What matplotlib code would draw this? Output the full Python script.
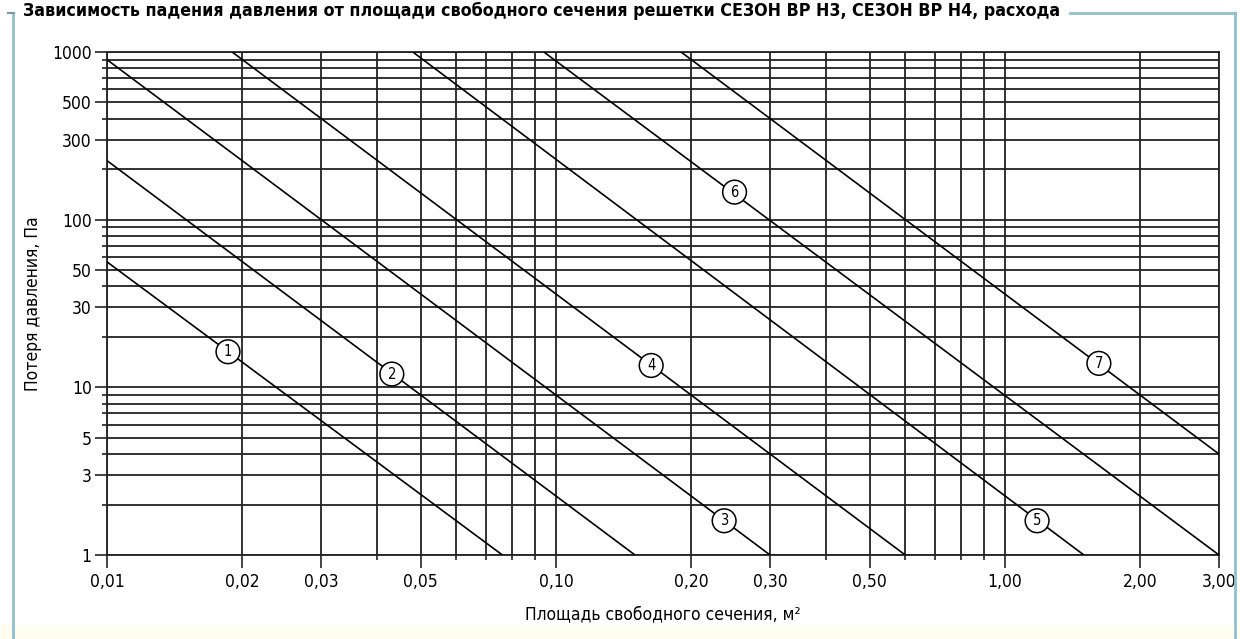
import matplotlib
matplotlib.use("Agg")
import matplotlib.pyplot as plt
from matplotlib.lines import Line2D
from matplotlib.patches import Rectangle
from matplotlib.ticker import FixedLocator, FixedFormatter, NullFormatter

plt.rcParams['font.family'] = ['DejaVu Sans']
plt.rcParams['font.stretch'] = 'condensed'

# Lines: each one is straight on log-log axes,
# so a start and an end point are enough
line_names = ["1", "2", "3", "4", "5", "6", "7"]
x_start = [0.01, 0.01, 0.01, 0.019, 0.048, 0.094, 0.19]
y_start = [56, 225, 900, 1000, 1000, 1000, 1000]
x_end = [0.076, 0.15, 0.30, 0.60, 1.5, 3.0, 3.0]
y_end = [1, 1, 1, 1, 1, 1, 4.0]

# Circled numbers sitting on the lines
label_x = [0.0186, 0.0431, 0.237, 0.163, 1.18, 0.25, 1.62]
label_y = [16.3, 12.0, 1.6, 13.5, 1.6, 146, 13.9]

# Axis ticks
x_major = [0.01, 0.02, 0.03, 0.05, 0.10, 0.20, 0.30, 0.50, 1.00, 2.00, 3.00]
x_major_labels = ["0,01", "0,02", "0,03", "0,05", "0,10", "0,20", "0,30",
                  "0,50", "1,00", "2,00", "3,00"]
x_minor = [0.04, 0.06, 0.07, 0.08, 0.09, 0.4, 0.6, 0.7, 0.8, 0.9]
y_major = [1, 3, 5, 10, 30, 50, 100, 300, 500, 1000]
y_major_labels = ["1", "3", "5", "10", "30", "50", "100", "300", "500", "1000"]
y_minor = [2, 4, 6, 7, 8, 9, 20, 40, 60, 70, 80, 90, 200, 400, 600, 700, 800, 900]

title = ("Зависимость падения давления от площади свободного сечения "
         "решетки СЕЗОН ВР Н3, СЕЗОН ВР Н4, расхода")

W, H = 1240, 639
fig = plt.figure(figsize=(W / 100, H / 100), dpi=100)
fig.patch.set_facecolor("white")

# faint cream strip along the bottom edge
fig.add_artist(Rectangle((0, 0), 1, 14 / H, transform=fig.transFigure,
                         fc="#fffcf0", ec="none", zorder=0))

ax = fig.add_axes([107 / W, 1 - 555 / H, (1219 - 107) / W, (555 - 52) / H])
ax.set_xscale("log")
ax.set_yscale("log")
ax.set_xlim(0.01, 3.0)
ax.set_ylim(1, 1000)

grid_col = "#222222"
ax.xaxis.set_major_locator(FixedLocator(x_major))
ax.xaxis.set_major_formatter(FixedFormatter(x_major_labels))
ax.xaxis.set_minor_locator(FixedLocator(x_minor))
ax.xaxis.set_minor_formatter(NullFormatter())
ax.yaxis.set_major_locator(FixedLocator(y_major))
ax.yaxis.set_major_formatter(FixedFormatter(y_major_labels))
ax.yaxis.set_minor_locator(FixedLocator(y_minor))
ax.yaxis.set_minor_formatter(NullFormatter())

ax.grid(True, which="both", color=grid_col, linewidth=1.3)
ax.tick_params(which="major", direction="out", length=9, width=1.2,
               color=grid_col, labelsize=12.5, pad=2)
ax.tick_params(which="minor", direction="out", length=3.5, width=1.2,
               color=grid_col)
ax.tick_params(axis="x", which="major", pad=4)
for s in ax.spines.values():
    s.set_color(grid_col)
    s.set_linewidth(1.3)

for i in range(len(line_names)):
    ax.plot([x_start[i], x_end[i]], [y_start[i], y_end[i]],
            color="black", linewidth=1.2, solid_capstyle="butt", zorder=3)

for i in range(len(line_names)):
    ax.text(label_x[i], label_y[i], line_names[i], fontsize=10.5,
            ha="center", va="center", zorder=5,
            bbox=dict(boxstyle="circle,pad=0.3", fc="white", ec="black", lw=1.1))

ax.set_xlabel("Площадь свободного сечения, м²", fontsize=12.5, labelpad=10)
ax.set_ylabel("Потеря давления, Па", fontsize=12.5, labelpad=7)

# Blue frame around the chart with the title sitting in its top edge
frame_col = "#8fc0cc"
def px(x, y):
    return x / W, 1 - y / H
fig.add_artist(Line2D(*zip(px(13, 13), px(13, H)), color=frame_col, lw=2))
fig.add_artist(Line2D(*zip(px(8, 13), px(14, 13)), color="#7a9aa3", lw=1.5))
fig.add_artist(Line2D(*zip(px(1070, 13), px(1235, 13)), color=frame_col, lw=2))
fig.add_artist(Line2D(*zip(px(1235, 13), px(1235, H)), color=frame_col, lw=2))
fig.text(23 / W, 1 - 11 / H, title, fontsize=12.8, fontweight="bold",
         ha="left", va="center")

fig.savefig("out.png", dpi=100)
